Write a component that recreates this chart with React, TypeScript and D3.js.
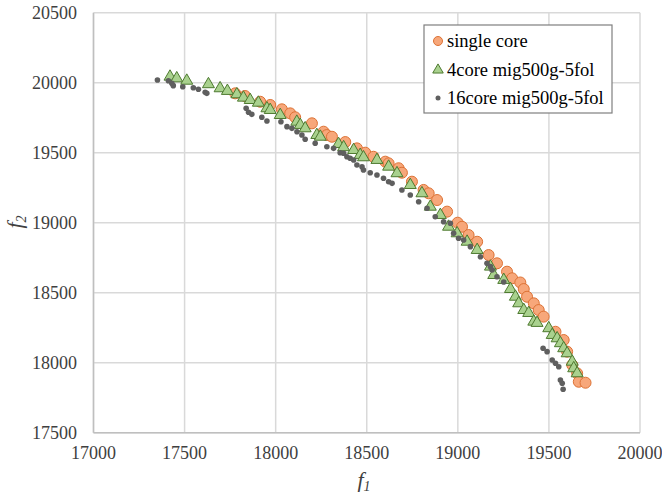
import React from "react";
import * as d3 from "d3";

const seriesNames = ["single core", "4core mig500g-5fol", "16core mig500g-5fol"];
const xTicks = [17000, 17500, 18000, 18500, 19000, 19500, 20000];
const yTicks = [17500, 18000, 18500, 19000, 19500, 20000, 20500];

const singleCore: [number, number][] = [
  [17778, 19924], [17832, 19905], [17915, 19864], [17970, 19841], [18034, 19810],
  [18080, 19781], [18107, 19753], [18199, 19710], [18263, 19650], [18281, 19626],
  [18309, 19614], [18382, 19576], [18446, 19531], [18492, 19500], [18537, 19471],
  [18602, 19436], [18620, 19424], [18675, 19389], [18693, 19357], [18748, 19293],
  [18812, 19234], [18840, 19210], [18886, 19162], [18941, 19079], [18999, 19000],
  [19023, 18971], [19059, 18912], [19106, 18864], [19169, 18769], [19215, 18710],
  [19270, 18650], [19298, 18603], [19343, 18573], [19362, 18526], [19380, 18471],
  [19417, 18424], [19444, 18376], [19471, 18329], [19536, 18221], [19581, 18162],
  [19600, 18079], [19628, 17984], [19655, 17924], [19664, 17864], [19701, 17857],
];

const core4: [number, number][] = [
  [17420, 20043], [17457, 20031], [17512, 20014], [17631, 19989], [17695, 19960],
  [17735, 19941], [17787, 19917], [17823, 19893], [17860, 19876], [17905, 19857],
  [17952, 19817], [17970, 19805], [18025, 19769], [18116, 19721], [18135, 19698],
  [18162, 19674], [18226, 19626], [18245, 19614], [18345, 19562], [18373, 19539],
  [18428, 19519], [18464, 19484], [18482, 19467], [18556, 19448], [18620, 19400],
  [18666, 19353], [18739, 19269], [18803, 19210], [18849, 19114], [18904, 19055],
  [18949, 18971], [18996, 18924], [19051, 18864], [19106, 18805], [19179, 18686],
  [19197, 18626], [19252, 18591], [19289, 18526], [19316, 18471], [19334, 18424],
  [19362, 18376], [19389, 18355], [19417, 18293], [19435, 18284], [19499, 18246],
  [19518, 18198], [19545, 18174], [19563, 18139], [19581, 18103], [19600, 18067],
  [19628, 18007], [19636, 17960], [19655, 17924],
];

const core16: [number, number][] = [
  [17351, 20019], [17411, 20014], [17430, 19996], [17438, 19979], [17490, 19971],
  [17548, 19964], [17576, 19953], [17613, 19931], [17622, 19924], [17838, 19817],
  [17851, 19789], [17869, 19774], [17924, 19753], [17952, 19726], [18029, 19721],
  [18062, 19686], [18089, 19674], [18117, 19650], [18144, 19626], [18162, 19596],
  [18217, 19567], [18281, 19543], [18318, 19531], [18354, 19500], [18373, 19496],
  [18391, 19471], [18409, 19460], [18428, 19448], [18446, 19412], [18474, 19400],
  [18482, 19376], [18519, 19357], [18556, 19341], [18592, 19317], [18620, 19293],
  [18639, 19281], [18693, 19234], [18739, 19198], [18785, 19150], [18831, 19103],
  [18876, 19043], [18922, 19007], [18959, 18996], [18977, 18924], [19004, 18889],
  [19032, 18876], [19069, 18829], [19124, 18757], [19160, 18710], [19179, 18686],
  [19188, 18662], [19215, 18614], [19252, 18576], [19468, 18103], [19490, 18079],
  [19518, 18019], [19536, 17996], [19554, 17971], [19563, 17876], [19573, 17853],
  [19578, 17810],
];

const W = 662;
const H = 493;
const serif = "Liberation Serif";

export default function App() {
  const x = d3.scaleLinear().domain([17000, 20000]).range([93.5, 640]);
  const y = d3.scaleLinear().domain([17500, 20500]).range([432.7, 12.7]);
  const tri = d3.symbol().type(d3.symbolTriangle).size(62)() as string;
  const triLegend = d3.symbol().type(d3.symbolTriangle).size(48)() as string;

  const orangeFill = "#F7A77A";
  const orangeStroke = "#DD7235";
  const greenFill = "#A9D18E";
  const greenStroke = "#4E7A30";
  const grayFill = "#5f5f5f";
  const txt = { fontFamily: serif } as React.CSSProperties;

  return (
    <svg width={W} height={H} style={{ position: "absolute", left: 0, top: 0, background: "#fff", fontFamily: serif }}>
      {xTicks.map((t) => (
        <line key={"gx" + t} x1={x(t)} x2={x(t)} y1={y(20500)} y2={y(17500)} stroke="#d9d9d9" strokeWidth={1.5} />
      ))}
      {yTicks.map((t) => (
        <line key={"gy" + t} x1={x(17000)} x2={x(20000)} y1={y(t)} y2={y(t)} stroke="#d9d9d9" strokeWidth={1.5} />
      ))}
      <line x1={x(17000)} x2={x(17000)} y1={y(20500)} y2={y(17500)} stroke="#bfbfbf" strokeWidth={1.5} />
      <line x1={x(17000)} x2={x(20000)} y1={y(17500)} y2={y(17500)} stroke="#bfbfbf" strokeWidth={1.5} />

      {xTicks.map((t) => (
        <text key={"tx" + t} x={x(t)} y={459} textAnchor="middle" style={txt} fontSize={18} fill="#404040">
          {t}
        </text>
      ))}
      {yTicks.map((t) => (
        <text key={"ty" + t} x={77} y={y(t) + 6} textAnchor="end" style={txt} fontSize={18} fill="#404040">
          {t}
        </text>
      ))}

      <text x={364} y={487} textAnchor="middle" style={txt} fontSize={22} fontStyle="italic" fill="#404040">
        f<tspan fontSize={14} dy={4}>1</tspan>
      </text>
      <text
        transform={`translate(22,222) rotate(-90)`}
        textAnchor="middle"
        style={txt}
        fontSize={22}
        fontStyle="italic"
        fill="#404040"
      >
        f<tspan fontSize={14} dy={4}>2</tspan>
      </text>

      <g>
        {singleCore.map((d, i) => (
          <circle key={"o" + i} cx={x(d[0])} cy={y(d[1])} r={5.5} fill={orangeFill} stroke={orangeStroke} strokeWidth={1} />
        ))}
      </g>
      <g>
        {core4.map((d, i) => (
          <path key={"t" + i} d={tri} transform={`translate(${x(d[0])},${y(d[1])})`} fill={greenFill} stroke={greenStroke} strokeWidth={1} />
        ))}
      </g>
      <g>
        {core16.map((d, i) => (
          <circle key={"g" + i} cx={x(d[0])} cy={y(d[1])} r={2.8} fill={grayFill} />
        ))}
      </g>

      <rect x={424} y={25} width={188} height={88} fill="#fff" stroke="#7f7f7f" strokeWidth={1.2} />
      <circle cx={438} cy={41} r={4.5} fill={orangeFill} stroke={orangeStroke} strokeWidth={1} />
      <path d={triLegend} transform="translate(438,70)" fill={greenFill} stroke={greenStroke} strokeWidth={1} />
      <circle cx={438} cy={98} r={2.5} fill={grayFill} />
      {seriesNames.map((n, i) => (
        <text key={n} x={447} y={47 + i * 28.5} style={txt} fontSize={18.5} fill="#000">
          {n}
        </text>
      ))}
    </svg>
  );
}
